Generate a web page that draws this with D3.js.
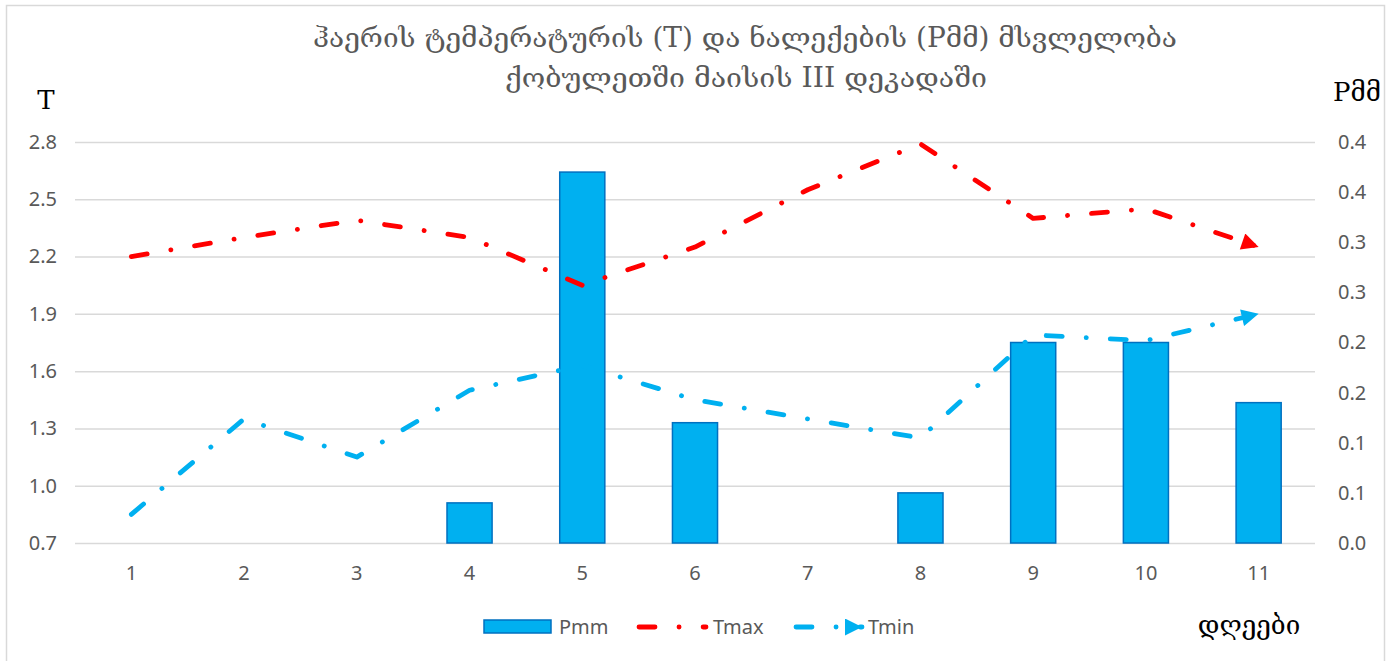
<!DOCTYPE html>
<html>
<head>
<meta charset="utf-8">
<script src="https://cdn.jsdelivr.net/npm/d3@7"></script>
<style>
  body { margin: 0; background: #fff; }
  svg { display: block; }
  .tick text { font-family: "Noto Sans", "Open Sans", sans-serif; font-size: 20px; fill: #595959; }
</style>
</head>
<body>
<div id="chart-area"></div>
<script>

// data
var days = ["1", "2", "3", "4", "5", "6", "7", "8", "9", "10", "11"];
var pmm  = [0, 0, 0, 0.04, 0.37, 0.12, 0, 0.05, 0.2, 0.2, 0.14];
var tmax = [2.2, 2.3, 2.39, 2.3, 2.05, 2.25, 2.55, 2.79, 2.4, 2.45, 2.25];
var tmin = [0.85, 1.35, 1.15, 1.5, 1.63, 1.45, 1.35, 1.25, 1.79, 1.76, 1.9];

var leftTicks  = [0.7, 1.0, 1.3, 1.6, 1.9, 2.2, 2.5, 2.8];
var rightTicks = [0, 0.05, 0.1, 0.15, 0.2, 0.25, 0.3, 0.35, 0.4];

var titleLines = ["ჰაერის ტემპერატურის (T) და ნალექების (Pმმ)  მსვლელობა",
                  "ქობულეთში მაისის III დეკადაში"];

var W = 1391, H = 661;
var margin = {top: 142, right: 76, bottom: 118, left: 75};
var width = W - margin.left - margin.right;
var height = H - margin.top - margin.bottom;

var root = d3.select("#chart-area").append("svg")
    .attr("width", W)
    .attr("height", H);

// outer frame
root.append("rect")
    .attr("x", 6.5).attr("y", 5.5)
    .attr("width", 1378).attr("height", 670)
    .attr("fill", "none")
    .attr("stroke", "#d9d9d9")
    .attr("stroke-width", 1.5);

var defs = root.append("defs");
function arrow(id, color) {
  defs.append("marker")
      .attr("id", id)
      .attr("viewBox", "0 0 10 10")
      .attr("refX", 10).attr("refY", 5)
      .attr("markerUnits", "userSpaceOnUse")
      .attr("markerWidth", 19).attr("markerHeight", 17)
      .attr("orient", "auto")
    .append("path")
      .attr("d", "M0,0L10,5L0,10Z")
      .attr("fill", color);
}
arrow("arrow-red", "#ff0000");
arrow("arrow-blue", "#00b0f0");

var svg = root.append("g")
    .attr("transform", "translate(" + margin.left + "," + margin.top + ")");

// scales
var x = d3.scaleBand().domain(days).range([0, width]);
var yL = d3.scaleLinear().domain([0.7, 2.8]).range([height, 0]);
var yR = d3.scaleLinear().domain([0, 0.4]).range([height, 0]);

// gridlines
svg.append("g")
    .call(d3.axisLeft(yL).tickValues(leftTicks).tickSize(-width).tickFormat(""))
    .call(function(g) {
      g.select(".domain").remove();
      g.selectAll("line").attr("stroke", "#d9d9d9").attr("stroke-width", 1.5);
    });

// left axis labels
svg.append("g")
    .call(d3.axisLeft(yL).tickValues(leftTicks).tickSize(0).tickPadding(18).tickFormat(d3.format(".1f")))
    .call(function(g) { g.select(".domain").remove(); });

// right axis labels (Excel rounding)
svg.append("g")
    .attr("transform", "translate(" + width + ",0)")
    .call(d3.axisRight(yR).tickValues(rightTicks).tickSize(0).tickPadding(23)
      .tickFormat(function(d) { return (Math.round(d * 10 + 1e-9) / 10).toFixed(1); }))
    .call(function(g) { g.select(".domain").remove(); });

// x axis labels
svg.append("g")
    .attr("transform", "translate(0," + height + ")")
    .call(d3.axisBottom(x).tickSize(0).tickPadding(23))
    .call(function(g) { g.select(".domain").remove(); });

// bars
var barW = x.bandwidth() * 0.4;
svg.selectAll(".bar")
    .data(pmm.map(function(v, i) { return {day: days[i], v: v}; }).filter(function(d) { return d.v > 0; }))
  .enter().append("rect")
    .attr("class", "bar")
    .attr("x", function(d) { return x(d.day) + (x.bandwidth() - barW) / 2; })
    .attr("y", function(d) { return yR(d.v); })
    .attr("width", barW)
    .attr("height", function(d) { return height - yR(d.v); })
    .attr("fill", "#00b0f0")
    .attr("stroke", "#0070c0")
    .attr("stroke-width", 1.5);

// lines
var dash = "16,24,0.1,24";
var line = d3.line()
    .x(function(d, i) { return x(days[i]) + x.bandwidth() / 2; })
    .y(function(d) { return yL(d); });

svg.append("path")
    .attr("d", line(tmax))
    .attr("fill", "none")
    .attr("stroke", "#ff0000")
    .attr("stroke-width", 4.8)
    .attr("stroke-linecap", "round")
    .attr("stroke-linejoin", "round")
    .attr("stroke-dasharray", dash)
    .attr("marker-end", "url(#arrow-red)");

svg.append("path")
    .attr("d", line(tmin))
    .attr("fill", "none")
    .attr("stroke", "#00b0f0")
    .attr("stroke-width", 4.8)
    .attr("stroke-linecap", "round")
    .attr("stroke-linejoin", "round")
    .attr("stroke-dasharray", dash)
    .attr("marker-end", "url(#arrow-blue)");

// titles
var title = root.append("text")
    .attr("text-anchor", "middle")
    .attr("fill", "#595959")
    .style("font-family", "'DejaVu Serif Condensed', 'DejaVu Serif', 'DejaVu Sans', serif")
    .style("font-size", "27px");
title.append("tspan").attr("x", 745).attr("y", 47).attr("textLength", 864).attr("lengthAdjust", "spacingAndGlyphs").text(titleLines[0]);
title.append("tspan").attr("x", 746).attr("y", 87).attr("textLength", 482).attr("lengthAdjust", "spacingAndGlyphs").text(titleLines[1]);

var axTitle = { "font-family": "'DejaVu Serif', 'Liberation Serif', serif", "font-size": "26px", "fill": "#000" };
function styled(sel, st) { for (var k in st) sel.style(k, st[k]); return sel; }

styled(root.append("text").attr("x", 46).attr("y", 109).attr("text-anchor", "middle").text("T"), axTitle);
styled(root.append("text").attr("x", 1357).attr("y", 101).attr("text-anchor", "middle").text("Pმმ"), axTitle);
styled(root.append("text").attr("x", 1249).attr("y", 634).attr("text-anchor", "middle").text("დღეები"), axTitle);

// legend
var lg = root.append("g").attr("transform", "translate(0,627)");
var legendFont = { "font-family": "'Noto Sans', 'Open Sans', sans-serif", "font-size": "20px", "fill": "#595959" };

lg.append("rect")
    .attr("x", 484).attr("y", -7).attr("width", 67).attr("height", 13)
    .attr("fill", "#00b0f0").attr("stroke", "#0070c0").attr("stroke-width", 1.5);
styled(lg.append("text").attr("x", 559).attr("y", 7).text("Pmm"), legendFont);

lg.append("line")
    .attr("x1", 639).attr("x2", 706).attr("y1", 0).attr("y2", 0)
    .attr("stroke", "#ff0000").attr("stroke-width", 4.8)
    .attr("stroke-linecap", "round").attr("stroke-dasharray", dash);
styled(lg.append("text").attr("x", 713).attr("y", 7).text("Tmax"), legendFont);

lg.append("line")
    .attr("x1", 796).attr("x2", 862).attr("y1", 0).attr("y2", 0)
    .attr("stroke", "#00b0f0").attr("stroke-width", 4.8)
    .attr("stroke-linecap", "round").attr("stroke-dasharray", dash)
    .attr("marker-end", "url(#arrow-blue)");
styled(lg.append("text").attr("x", 868).attr("y", 7).text("Tmin"), legendFont);

</script>
</body>
</html>
